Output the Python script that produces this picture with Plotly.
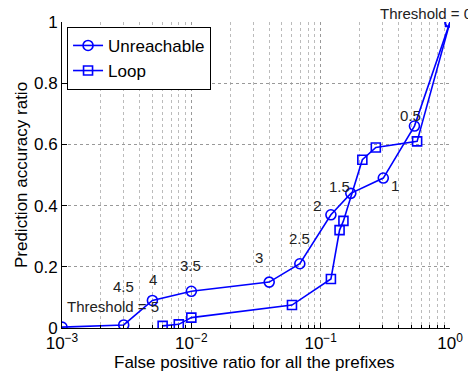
import numpy as np
import plotly.graph_objects as go

# Data
unreach_x = [0.001, 0.003, 0.005, 0.01, 0.040, 0.069, 0.12, 0.171, 0.305, 0.531, 1.0]
unreach_y = [0.003, 0.01, 0.09, 0.12, 0.15, 0.21, 0.37, 0.44, 0.49, 0.66, 1.0]
loop_x = [0.006, 0.008, 0.01, 0.060, 0.120, 0.14, 0.150, 0.21, 0.267, 0.557, 1.0]
loop_y = [0.007, 0.012, 0.034, 0.075, 0.16, 0.32, 0.35, 0.55, 0.59, 0.61, 1.0]

label_text = ["Threshold = 5", "4.5", "4", "3.5", "3", "2.5", "2", "1.5", "1", "0.5"]
label_x = [10**-2.606, 10**-2.528, 10**-2.296, 10**-2.01, 10**-1.474, 10**-1.167,
           10**-1.026, 10**-0.855, 10**-0.425, 10**-0.309]
label_y = [0.069, 0.137, 0.157, 0.203, 0.231, 0.291, 0.399, 0.464, 0.467, 0.696]

top_label = "Threshold = 0"
top_label_x = 10**-0.556

x_ticks = [0.001, 0.01, 0.1, 1]
x_ticktext = ["10<sup>−3</sup>", "10<sup>−2</sup>", "10<sup>−1</sup>", "10<sup>0</sup>"]
y_ticks = [0, 0.2, 0.4, 0.6, 0.8, 1]
y_ticktext = ["0", "0.2", "0.4", "0.6", "0.8", "1"]

x_title = "False positive ratio for all the prefixes"
y_title = "Prediction accuracy ratio"

FONT = "Liberation Sans, Arial, sans-serif"
BLUE = "rgb(0,0,255)"

fig = go.Figure()
fig.add_trace(go.Scatter(
    x=unreach_x, y=unreach_y, mode="lines+markers", name="Unreachable",
    line=dict(color=BLUE, width=1.6),
    marker=dict(symbol="circle-open", size=10, color=BLUE, line=dict(width=1.6)),
))
fig.add_trace(go.Scatter(
    x=loop_x, y=loop_y, mode="lines+markers", name="Loop",
    line=dict(color=BLUE, width=1.6),
    marker=dict(symbol="square-open", size=9, color=BLUE, line=dict(width=1.6)),
))

for t, x, y in zip(label_text, label_x, label_y):
    fig.add_annotation(x=np.log10(x), y=y, text=t, showarrow=False,
                       font=dict(family=FONT, size=15, color="#222"))
fig.add_annotation(x=np.log10(top_label_x), y=1.029, yref="paper", text=top_label,
                   showarrow=False, xanchor="left", yanchor="middle",
                   font=dict(family=FONT, size=15, color="#222"))
fig.add_annotation(x=0.495, y=-0.114, xref="paper", yref="paper", text=x_title,
                   showarrow=False, xanchor="center", yanchor="middle",
                   font=dict(family=FONT, size=17, color="black"))

fig.update_layout(
    width=468, height=373,
    margin=dict(l=62, r=18, t=22, b=45, autoexpand=False),
    paper_bgcolor="white", plot_bgcolor="white",
    font=dict(family=FONT, size=17, color="black"),
    showlegend=True,
    legend=dict(x=0.013, y=0.984, xanchor="left", yanchor="top",
                bordercolor="black", borderwidth=1, bgcolor="white",
                font=dict(family=FONT, size=17), tracegroupgap=0,
                itemwidth=30),
)
fig.update_xaxes(
    type="log", range=[-3, 0], automargin=False,
    tickvals=x_ticks, ticktext=x_ticktext,
    showline=True, linecolor="black", linewidth=1,
    ticks="inside", ticklen=5, tickcolor="black",
    showgrid=True, gridcolor="#999", griddash="dot", gridwidth=1,
    minor=dict(showgrid=True, gridcolor="#bbb", griddash="dot", gridwidth=1,
               ticks="inside", ticklen=3, tickcolor="black",
               tickvals=[m * 10**e for e in (-3, -2, -1) for m in range(2, 10)]),
    zeroline=False, mirror=False,
    tickfont=dict(family=FONT, size=17),
)
fig.update_yaxes(
    range=[0, 1], automargin=False, tickvals=y_ticks, ticktext=y_ticktext,
    showline=True, linecolor="black", linewidth=1,
    ticks="inside", ticklen=5, tickcolor="black",
    showgrid=True, gridcolor="#999", griddash="dot", gridwidth=1,
    zeroline=False,
    title=dict(text=y_title, standoff=2, font=dict(family=FONT, size=17)),
    tickfont=dict(family=FONT, size=17),
)

fig.write_html("out.html")
